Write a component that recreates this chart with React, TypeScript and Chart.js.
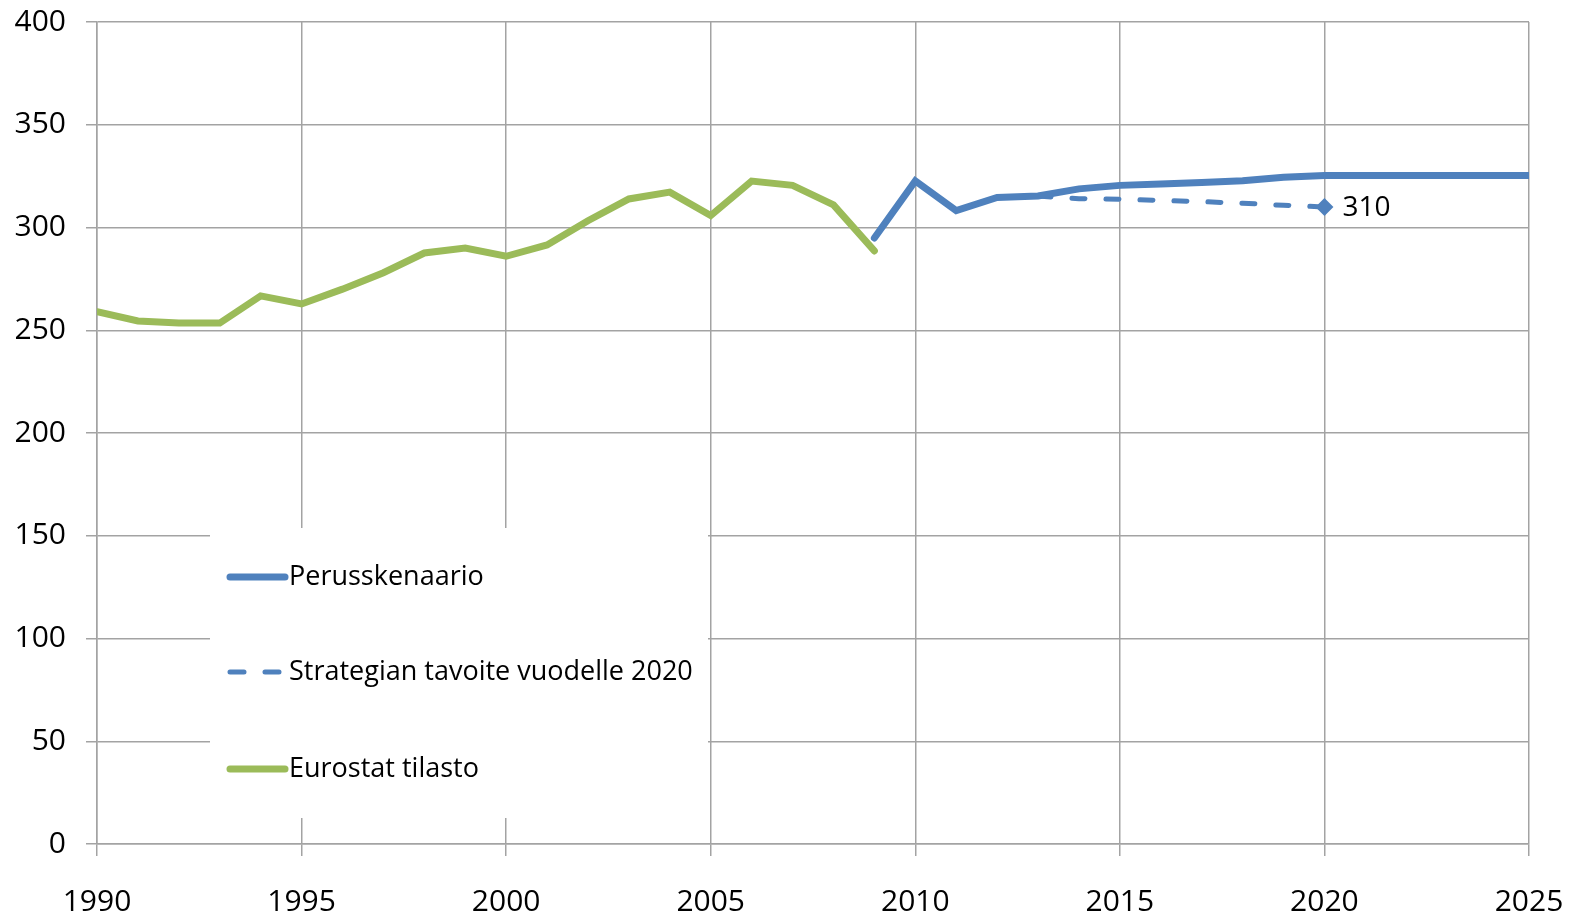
import React, { useEffect, useRef } from "react";
import { Chart, registerables } from "chart.js";

Chart.register(...registerables);

const eurostatYears = [1990, 1991, 1992, 1993, 1994, 1995, 1996, 1997, 1998, 1999, 2000, 2001, 2002, 2003, 2004, 2005, 2006, 2007, 2008, 2009];
const eurostatValues = [259, 254.5, 253.5, 253.5, 266.7, 262.8, 270, 278, 287.6, 290, 286, 291.5, 303.3, 313.9, 317.2, 305.8, 322.6, 320.5, 311, 288.6];

const scenarioYears = [2009, 2010, 2011, 2012, 2013, 2014, 2015, 2016, 2017, 2018, 2019, 2020, 2021, 2022, 2023, 2024, 2025];
const scenarioValues = [294.9, 322.7, 308.2, 314.6, 315.3, 318.8, 320.5, 321.2, 321.9, 322.8, 324.5, 325.3, 325.3, 325.3, 325.3, 325.3, 325.3];

const targetYears = [2013, 2014, 2015, 2016, 2017, 2018, 2019, 2020];
const targetValues = [315.3, 314, 313.8, 313.2, 312.6, 311.8, 310.8, 310];

const yTicks = [0, 50, 100, 150, 200, 250, 300, 350, 400];
const xTickStep = 5;

const BLUE = "#4F81BD";
const GREEN = "#9BBB59";
const GRID = "#a3a3a3";
const FONT = "'Open Sans', 'Noto Sans', sans-serif";

const toPoints = (xs: number[], ys: number[]) => xs.map((x, i) => ({ x, y: ys[i] }));

const legendPlugin = {
  id: "insideLegend",
  beforeDatasetsDraw(chart: any) {
    const { ctx, chartArea } = chart;
    const left = chartArea.left + 113;
    const top = 528;
    const w = 498;
    const h = 290;
    ctx.save();
    ctx.fillStyle = "#ffffff";
    ctx.fillRect(left, top, w, h);
    const rows = [577, 672, 769];
    chart.data.datasets.forEach((ds: any, i: number) => {
      const y = rows[i];
      ctx.strokeStyle = ds.borderColor;
      ctx.lineWidth = ds.legendLineWidth;
      ctx.lineCap = "round";
      ctx.setLineDash(ds.borderDash ? [14, 21] : []);
      ctx.beginPath();
      if (ds.borderDash) {
        ctx.moveTo(left + 20, y);
        ctx.lineTo(left + 72, y);
      } else {
        ctx.moveTo(left + 20, y);
        ctx.lineTo(left + 75, y);
      }
      ctx.stroke();
      ctx.setLineDash([]);
      ctx.fillStyle = "#000000";
      ctx.font = `27px ${FONT}`;
      ctx.textBaseline = "middle";
      ctx.textAlign = "left";
      ctx.fillText(ds.label, left + 79, y);
    });
    ctx.restore();
  },
  afterDatasetsDraw(chart: any) {
    const { ctx } = chart;
    const meta = chart.getDatasetMeta(1);
    const last = meta.data[meta.data.length - 1];
    if (!last) return;
    ctx.save();
    ctx.fillStyle = "#000000";
    ctx.font = `28px ${FONT}`;
    ctx.textBaseline = "middle";
    ctx.textAlign = "left";
    ctx.fillText(String(targetValues[targetValues.length - 1]), last.x + 18, last.y + 1);
    ctx.restore();
  },
};

export default function App() {
  const ref = useRef<HTMLCanvasElement | null>(null);

  useEffect(() => {
    document.body.style.margin = "0";
    const canvas = ref.current;
    if (!canvas) return;
    const chart = new Chart(canvas, {
      type: "line",
      data: {
        datasets: [
          {
            label: "Perusskenaario",
            data: toPoints(scenarioYears, scenarioValues),
            borderColor: BLUE,
            backgroundColor: BLUE,
            borderWidth: 7,
            pointRadius: 0,
            borderCapStyle: "round",
            legendLineWidth: 7,
          } as any,
          {
            label: "Strategian tavoite vuodelle 2020",
            data: toPoints(targetYears, targetValues),
            borderColor: BLUE,
            backgroundColor: BLUE,
            borderWidth: 5,
            borderDash: [13, 21],
            borderCapStyle: "round",
            pointStyle: "rectRot",
            pointRadius: (c: any) => (c.dataIndex === targetValues.length - 1 ? 9 : 0),
            pointBorderWidth: 0,
            legendLineWidth: 5,
          } as any,
          {
            label: "Eurostat tilasto",
            data: toPoints(eurostatYears, eurostatValues),
            borderColor: GREEN,
            backgroundColor: GREEN,
            borderWidth: 7,
            pointRadius: 0,
            borderCapStyle: "round",
            legendLineWidth: 7,
          } as any,
        ],
      },
      options: {
        animation: false,
        responsive: false,
        maintainAspectRatio: false,
        layout: { padding: { top: 22, right: 40, left: 0, bottom: 0 } },
        plugins: {
          legend: { display: false },
          tooltip: { enabled: false },
        },
        scales: {
          x: {
            type: "linear",
            min: 1990,
            max: 2025,
            afterFit: (s: any) => {
              s.height = 69;
              s.paddingLeft = 0;
              s.paddingRight = 0;
            },
            afterBuildTicks: (s: any) => {
              const t = [];
              for (let v = 1990; v <= 2025; v += xTickStep) t.push({ value: v });
              s.ticks = t;
            },
            ticks: {
              callback: (v: any) => String(v),
              color: "#000000",
              font: { family: FONT, size: 30 },
              padding: 28,
              maxRotation: 0,
            },
            grid: { color: GRID, lineWidth: 1.5, tickLength: 12 },
            border: { color: GRID, width: 1.5 },
          },
          y: {
            type: "linear",
            min: 0,
            max: 400,
            afterFit: (s: any) => {
              s.width = 97;
              s.paddingTop = 0;
              s.paddingBottom = 0;
            },
            afterBuildTicks: (s: any) => {
              s.ticks = yTicks.map((v) => ({ value: v }));
            },
            ticks: {
              color: "#000000",
              font: { family: FONT, size: 30 },
              padding: 20,
            },
            grid: { color: GRID, lineWidth: 1.5, tickLength: 11 },
            border: { color: GRID, width: 1.5 },
          },
        },
      },
      plugins: [legendPlugin],
    });
    return () => chart.destroy();
  }, []);

  return (
    <div style={{ width: 1569, height: 913, background: "#fff" }}>
      <canvas ref={ref} width={1569} height={913} style={{ display: "block" }} />
    </div>
  );
}
